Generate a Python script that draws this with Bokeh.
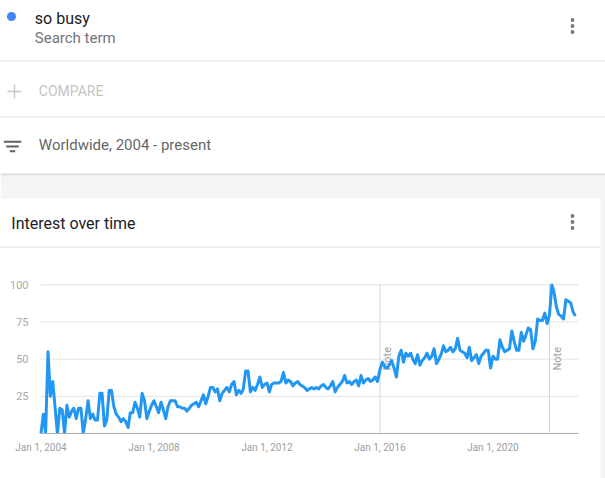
import math
import pandas as pd
from bokeh.plotting import figure
from bokeh.models import Range1d, FixedTicker, CustomJSTickFormatter
from bokeh.core.properties import value
from bokeh.embed import file_html
from bokeh.resources import INLINE

# ---------------- data ----------------
search_term = "so busy"
term_kind = "Search term"
compare_text = "COMPARE"
region_text = "Worldwide, 2004 - present"
chart_title = "Interest over time"
note_text = "Note"
start_month = "2004-01-01"

interest = [
    0, 13, 0, 55, 25, 35, 18, 0, 17, 16,
    0, 19, 11, 15, 17, 10, 17, 17, 0, 10,
    22, 10, 13, 9, 9, 27, 27, 5, 9, 29,
    29, 18, 13, 11, 8, 10, 8, 4, 14, 14,
    21, 17, 11, 27, 22, 10, 15, 19, 22, 18,
    14, 21, 16, 10, 18, 22, 22, 22, 18, 18,
    17, 17, 15, 17, 19, 20, 21, 18, 22, 26,
    20, 25, 31, 31, 28, 30, 22, 27, 29, 31,
    28, 33, 35, 26, 29, 27, 30, 42, 42, 28,
    31, 29, 33, 38, 31, 33, 34, 28, 33, 34,
    34, 34, 35, 41, 34, 36, 35, 32, 34, 35,
    33, 32, 31, 29, 30, 31, 30, 31, 30, 32,
    33, 31, 30, 32, 35, 28, 31, 33, 35, 39,
    34, 35, 33, 35, 36, 32, 39, 34, 36, 37,
    35, 36, 38, 35, 43, 48, 45, 44, 46, 49,
    44, 38, 52, 56, 48, 54, 52, 54, 50, 47,
    53, 46, 49, 51, 54, 50, 52, 57, 47, 50,
    53, 59, 55, 56, 58, 55, 57, 64, 56, 55,
    54, 51, 58, 49, 51, 53, 47, 52, 54, 56,
    56, 44, 52, 50, 50, 63, 58, 55, 56, 57,
    69, 62, 56, 56, 68, 62, 66, 71, 70, 57,
    62, 77, 76, 76, 81, 74, 80, 100, 95, 85,
    80, 79, 77, 90, 89, 88, 82, 79,
]
tick_years = [2004, 2008, 2012, 2016, 2020]
note_dates = ["2016-01-01", "2022-01-01"]
y_ticks = [25, 50, 75, 100]

dates = pd.date_range(start_month, periods=len(interest), freq="MS")


def ms(s):
    return float(pd.Timestamp(s).value // 10**6)


# ---------------- geometry ----------------
W, H = 605, 478
FL, FR, FT, FB = 40, 578, 283, 433          # chart area edges in page pixels
X0, X1 = ms("2003-12-26"), ms("2023-01-11")  # time span of the chart area
Y0, Y1 = 0, 100.9                            # value span of the chart area
TXT_SHIFT = -5.5                             # baseline correction for header texts


def dx(px):
    return X0 + (px - FL) * (X1 - X0) / (FR - FL)


def dy(py):
    return Y0 + (FB - py) * (Y1 - Y0) / (FB - FT)


FONT = value("Roboto")

p = figure(width=W, height=H, x_axis_type="datetime",
           x_range=Range1d(dx(0), dx(W)), y_range=Range1d(dy(H), dy(0)),
           toolbar_location=None, output_backend="svg", min_border=0,
           outline_line_color=None, background_fill_color="white",
           border_fill_color="white")
p.xgrid.visible = False
p.ygrid.visible = False


def box(x0, y0, x1, y1, color):
    p.quad(left=[dx(x0)], right=[dx(x1)], top=[dy(y0)], bottom=[dy(y1)],
           fill_color=color, line_color=None)


def label(x, y, text, size, color):
    p.text(x=[dx(x)], y=[dy(y + TXT_SHIFT)], text=[text], text_font=FONT,
           text_font_size=value(size), text_color=color,
           text_baseline="alphabetic", text_align="left")


# ---------------- page chrome ----------------
box(0, 174, W, 198, "#f5f5f5")          # grey gap between cards
box(0, 173, W, 174, "#cfcfcf")          # card shadow
box(0, 174, W, 175, "#e2e2e2")
box(0, 175, W, 176, "#eeeeee")
box(600, 198, W, H, "#f5f5f5")          # grey strip right of chart card
box(0, 60, W, 61, "#e0e0e0")            # dividers
box(0, 116, W, 117, "#e0e0e0")
box(0, 246, 599, 247, "#e0e0e0")

p.scatter(x=[dx(11)], y=[dy(16)], size=9, fill_color="#4285f4", line_color=None)
label(34.3, 23.3, search_term, "16px", "#202124")
label(34.3, 43.3, term_kind, "15px", "#70757a")

kx = [dx(572)] * 6
ky = [dy(v) for v in (19.5, 25.5, 31.5, 215.5, 221.5, 227.5)]
p.scatter(x=kx, y=ky, size=3.8, fill_color="#757575", line_color=None)   # kebab menus

box(7, 90.3, 21, 91.7, "#c8c8c8")            # plus icon
box(13.3, 84, 14.7, 98, "#c8c8c8")
label(38.3, 96, compare_text, "14px", "#c4c4c4")

box(3.3, 140.3, 20.7, 142.3, "#616161")      # filter icon
box(5.7, 145, 18.3, 147, "#616161")
box(9.3, 149.7, 14.7, 151.7, "#616161")
label(38.3, 150, region_text, "15px", "#666666")

label(10.8, 228.3, chart_title, "16px", "#202124")

# ---------------- chart ----------------
p.segment(x0=[X0] * len(y_ticks), x1=[X1] * len(y_ticks), y0=y_ticks, y1=y_ticks,
          line_color="#e3e3e3", line_width=1)
note_x = [ms(d) for d in note_dates]
p.segment(x0=note_x, x1=note_x, y0=[Y0] * len(note_x), y1=[Y1] * len(note_x),
          line_color="#d6d6d6", line_width=1)
p.text(x=note_x, y=[50.3] * len(note_x), text=[note_text] * len(note_x), angle=math.pi / 2,
       text_align="center", text_baseline="top", x_offset=1.5, text_font=FONT,
       text_font_size=value("11px"), text_color="#9e9e9e")

p.line(dates, interest, line_color="#2196f3", line_width=3, line_join="round")
# keep the series inside the chart area (as the clipped original)
p.quad(left=[X0], right=[X1], top=[Y0], bottom=[dy(FB + 3)], fill_color="white",
       line_color=None)
p.quad(left=[X0], right=[X1], top=[dy(FT - 3)], bottom=[Y1], fill_color="white",
       line_color=None)

p.xaxis.fixed_location = Y0
p.xaxis.bounds = (X0, X1)
p.xaxis.ticker = FixedTicker(ticks=[ms(f"{y}-01-01") for y in tick_years])
p.xaxis.formatter = CustomJSTickFormatter(code="""
const d = new Date(tick);
const m = ["Jan","Feb","Mar","Apr","May","Jun","Jul","Aug","Sep","Oct","Nov","Dec"][d.getUTCMonth()];
return m + " " + d.getUTCDate() + ", " + d.getUTCFullYear();
""")
p.xaxis.axis_line_color = "#aaaaaa"
p.xaxis.major_tick_line_color = None
p.xaxis.minor_tick_line_color = None
p.xaxis.major_label_text_font = "Roboto"
p.xaxis.major_label_text_font_size = "10px"
p.xaxis.major_label_text_color = "#9e9e9e"
p.xaxis.major_label_standoff = 2

p.yaxis.fixed_location = X0
p.yaxis.bounds = (Y0, Y1)
p.yaxis.ticker = FixedTicker(ticks=y_ticks)
p.yaxis.axis_line_color = None
p.yaxis.major_tick_line_color = None
p.yaxis.minor_tick_line_color = None
p.yaxis.major_label_text_font = "Roboto"
p.yaxis.major_label_text_font_size = "11px"
p.yaxis.major_label_text_color = "#a8a8a8"
p.yaxis.major_label_standoff = 6

open("out.html", "w").write(file_html(p, INLINE))
